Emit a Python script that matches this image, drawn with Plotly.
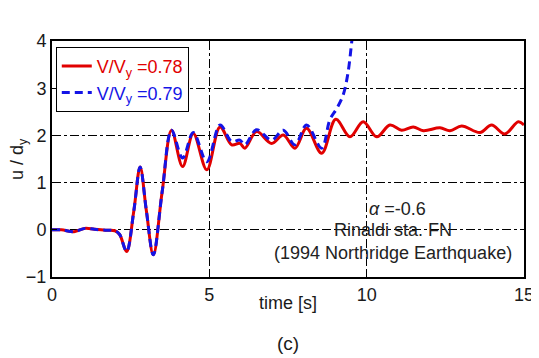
import plotly.graph_objects as go

# time [s] and normalized displacement u/dy
t_red = [0, 0.3, 0.7, 1.05, 1.35, 1.7, 2.0, 2.15, 2.37, 2.6, 2.8, 3.0, 3.22, 3.5, 3.8,
         4.15, 4.49, 4.92, 5.34, 5.71, 5.97, 6.13, 6.5, 6.98, 7.35, 7.72, 8.09, 8.57,
         9.02, 9.47, 9.89, 10.32, 10.74, 11.11, 11.48, 11.8, 12.33, 12.65, 13.02, 13.6,
         13.97, 14.39, 14.82, 15.0]
u_red = [0, 0.0, -0.04, 0.03, 0.01, -0.01, -0.02, -0.1, -0.46, 0.4, 1.33, 0.4, -0.53, 0.8, 2.11,
         1.34, 2.04, 1.27, 2.18, 1.80, 1.83, 1.73, 2.08, 1.83, 2.01, 1.73, 2.15, 1.62,
         2.34, 1.97, 2.29, 1.97, 2.22, 2.11, 2.18, 2.10, 2.16, 2.10, 2.20, 2.06,
         2.22, 2.03, 2.29, 2.22]

t_blue = [0, 0.3, 0.7, 1.05, 1.35, 1.7, 2.0, 2.15, 2.37, 2.6, 2.8, 3.0, 3.22, 3.5, 3.8,
          4.15, 4.49, 4.92, 5.34, 5.71, 5.97, 6.13, 6.5, 6.98, 7.35, 7.72, 8.09, 8.57,
          8.83, 9.05, 9.25, 9.4, 9.52, 9.62]
u_blue = [0, 0.0, -0.04, 0.03, 0.01, -0.01, -0.02, -0.1, -0.46, 0.4, 1.33, 0.4, -0.53, 0.8, 2.11,
          1.52, 2.06, 1.44, 2.22, 1.87, 1.9, 1.8, 2.12, 1.9, 2.11, 1.8, 2.22, 1.73,
          2.33, 2.57, 2.85, 3.3, 3.95, 4.6]

x_ticks = [0, 5, 10, 15]
y_ticks = [-1, 0, 1, 2, 3, 4]

RED = "rgb(225,0,0)"
BLUE = "rgb(20,20,230)"
TXT = "#1a1a1a"
FS = 18

fig = go.Figure()
fig.add_trace(go.Scatter(
    x=t_red, y=u_red, mode="lines", line=dict(color=RED, width=3, shape="spline"),
    name=f'<span style="color:{RED}">V/V<sub>y</sub> =0.78</span>'))
fig.add_trace(go.Scatter(
    x=t_blue, y=u_blue, mode="lines",
    line=dict(color=BLUE, width=3, dash="8px,5px", shape="spline"),
    name=f'<span style="color:{BLUE}">V/V<sub>y</sub> =0.79</span>'))

axis_common = dict(
    showline=True, linecolor="black", linewidth=2, mirror=True,
    ticks="inside", ticklen=5, tickcolor="black",
    showgrid=True, gridcolor="black", gridwidth=1, griddash="dashdot",
    zeroline=False, tickfont=dict(size=FS, color=TXT), automargin=False,
)

fig.update_xaxes(range=[0, 15], tickvals=x_ticks, **axis_common)
fig.update_yaxes(range=[-1, 4], tickvals=y_ticks, **axis_common)


def note(x, y, text, size=FS, color=TXT, angle=0):
    fig.add_annotation(x=x, y=y, xref="paper", yref="paper", showarrow=False,
                       xanchor="center", yanchor="middle", textangle=angle,
                       text=text, font=dict(size=size, color=color))


# axis titles
note(-0.072, 0.5, "u / d<sub>y</sub>", angle=-90)
note(0.5, -0.11, "time [s]")
note(0.5, -0.28, "(c)", size=FS + 1)

# in-plot notes
note(0.733, 0.288, "<i>α</i> =-0.6", color="#222")
note(0.722, 0.199, "Rinaldi sta. FN", color="#222")
note(0.722, 0.10, "(1994 Northridge Earthquake)", color="#222")

# page body has an 8px margin, so the figure is sized/placed to compensate
fig.update_layout(
    width=531, height=350,
    margin=dict(l=44, r=15, t=33, b=81, autoexpand=False),
    paper_bgcolor="white", plot_bgcolor="white",
    font=dict(family="Liberation Sans, Arial, sans-serif", size=FS),
    showlegend=True,
    legend=dict(x=0.008, y=0.975, xanchor="left", yanchor="top",
                bgcolor="white", bordercolor="black", borderwidth=1,
                font=dict(size=FS), itemwidth=30, tracegroupgap=0),
)

fig.write_html("out.html")
